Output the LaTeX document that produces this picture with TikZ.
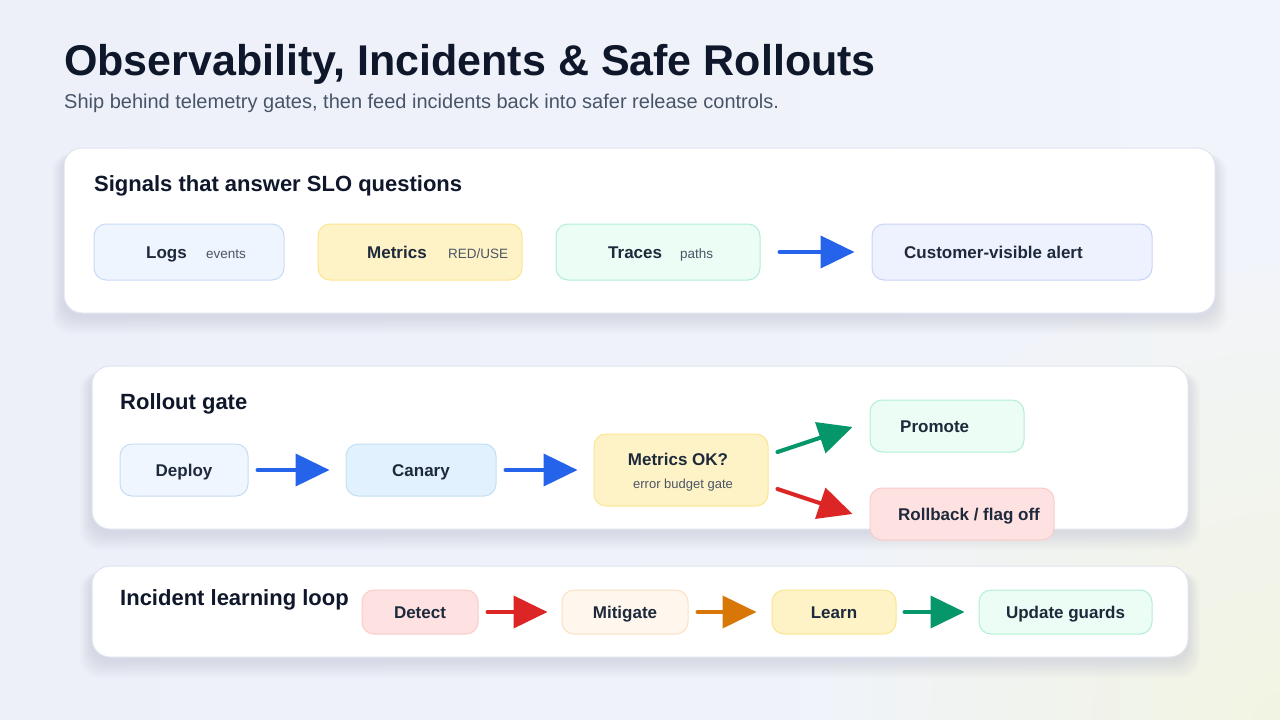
\documentclass[tikz,border=0pt]{standalone}
\usepackage{fontspec}
\setmainfont{Liberation Sans}
\usetikzlibrary{arrows.meta,calc}
\definecolor{bgA}{HTML}{EDF0F9}
\definecolor{bgM}{HTML}{F2F4FB}
\definecolor{bgY}{HTML}{FCF7DC}
\definecolor{panelline}{HTML}{E0E4EE}
\definecolor{shadowc}{HTML}{8E9AB8}
\definecolor{ink}{HTML}{0F172A}
\definecolor{boxink}{HTML}{1E293B}
\definecolor{subink}{HTML}{475569}
\definecolor{smallink}{HTML}{4B5563}
\definecolor{cblue}{HTML}{2563EB}
\definecolor{cgreen}{HTML}{059669}
\definecolor{cred}{HTML}{DC2626}
\definecolor{corange}{HTML}{D97706}
\definecolor{logsF}{HTML}{EEF5FF}\definecolor{logsD}{HTML}{C9DCF5}
\definecolor{yelF}{HTML}{FEF3C7}\definecolor{yelD}{HTML}{FCE592}
\definecolor{grnF}{HTML}{ECFDF5}\definecolor{grnD}{HTML}{B3EFD5}
\definecolor{indF}{HTML}{EEF2FF}\definecolor{indD}{HTML}{CAD3F7}
\definecolor{depF}{HTML}{EFF6FF}\definecolor{depD}{HTML}{C8DBF2}
\definecolor{canF}{HTML}{E1F1FD}\definecolor{canD}{HTML}{C3E0F5}
\definecolor{redF}{HTML}{FEE2E2}\definecolor{redD}{HTML}{FBCACA}
\definecolor{orF}{HTML}{FFF7ED}\definecolor{orD}{HTML}{FBE0C2}
\newcommand{\myshadow}[4]{%
  \foreach \i in {1,...,12}{%
    \fill[shadowc,opacity=0.018,rounded corners=18pt]
      ({#1-\i*1.0},{#2+6}) rectangle ({#3+\i*1.0},{#4+3+\i*1.5});
  }}
\begin{document}
\begin{tikzpicture}[x=1pt,y=-1pt,
  panel/.style={draw=panelline,line width=1pt,fill=white,rounded corners=18pt,inner sep=0pt},
  box/.style={draw=#1D,fill=#1F,line width=1pt,rounded corners=12pt,inner sep=0pt,
     text=boxink,font=\fontsize{17}{20}\selectfont\bfseries,text height=12.2pt,text depth=0pt},
  btxt/.style={anchor=base west,inner sep=0pt,text=boxink,font=\fontsize{17}{20}\selectfont\bfseries},
  stxt/.style={anchor=base west,inner sep=0pt,text=smallink,font=\fontsize{13.5}{16}\selectfont},
  ptitle/.style={anchor=base west,inner sep=0pt,text=ink,font=\fontsize{22}{26}\selectfont\bfseries},
  flow/.style={draw=#1,line width=4pt,line cap=round,-{Triangle[length=34pt,width=32pt]}}
]
\useasboundingbox (0,0) rectangle (1280,720);
\begin{scope}
\clip (0,0) rectangle (1280,720);
\shade[left color=bgA,right color=bgM] (0,0) rectangle (1280,720);
\foreach \r in {20,40,...,460}{
  \fill[bgY,opacity=0.035] (1290,730) circle (\r);
}
\end{scope}

% title
\node[anchor=base west,inner sep=0pt,text=ink,font=\fontsize{43}{48}\selectfont\bfseries] (title) at (64,75) {Observability, Incidents \& Safe Rollouts};
\node[anchor=base west,inner sep=0pt,text=subink,font=\fontsize{20}{23}\selectfont] (subtitle) at (64,108) {Ship behind telemetry gates, then feed incidents back into safer release controls.};

% shadows
\myshadow{64}{148}{1215}{313}
\myshadow{92}{366}{1188}{529}
\myshadow{92}{566}{1188}{657}

% panels
\node[panel,minimum width=1151pt,minimum height=165pt] (p1) at (639.5,230.5) {};
\node[panel,minimum width=1096pt,minimum height=163pt] (p2) at (640,447.5) {};
\node[panel,minimum width=1096pt,minimum height=91pt] (p3) at (640,611.5) {};

\node[ptitle] (t1) at (94,191) {Signals that answer SLO questions};
\node[ptitle] (t2) at (120,409) {Rollout gate};
\node[ptitle] (t3) at (120,605) {Incident learning loop};

% panel 1
\node[box=logs,minimum width=190pt,minimum height=56pt] (logs) at (189,252) {};
\node[btxt] (logsT) at (146,258) {Logs};
\node[stxt] (logsS) at (206,258) {events};
\node[box=yel,minimum width=204pt,minimum height=56pt] (metrics) at (420,252) {};
\node[btxt] (metricsT) at (367,258) {Metrics};
\node[stxt] (metricsS) at (448,258) {RED/USE};
\node[box=grn,minimum width=204pt,minimum height=56pt] (traces) at (658,252) {};
\node[btxt] (tracesT) at (608,258) {Traces};
\node[stxt] (tracesS) at (680,258) {paths};
\node[box=ind,minimum width=280pt,minimum height=56pt] (alert) at (1012,252) {};
\node[btxt] (alertT) at (904,258) {Customer-visible alert};
\draw[flow=cblue,shorten <=19pt,shorten >=17pt] (traces.east) -- (alert.west);

% panel 2
\node[box=dep,minimum width=128pt,minimum height=52pt] (deploy) at (184,470) {Deploy};
\node[box=can,minimum width=150pt,minimum height=52pt] (canary) at (421,470) {Canary};
\node[box=yel,minimum width=174pt,minimum height=72pt] (metok) at (681,470) {};
\node[anchor=base,inner sep=0pt,text=boxink,font=\fontsize{17}{20}\selectfont\bfseries] (metokT) at (678,465) {Metrics OK?};
\node[anchor=base,inner sep=0pt,text=smallink,font=\fontsize{13}{16}\selectfont] (metokS) at (683,488) {error budget gate};
\node[box=grn,minimum width=154pt,minimum height=52pt] (promote) at (947,426) {};
\node[btxt] (promoteT) at (900,432) {Promote};
\node[box=red,minimum width=184pt,minimum height=52pt] (rollback) at (962,514) {};
\node[btxt] (rollbackT) at (898,520) {Rollback / flag off};
\draw[flow=cblue,shorten <=9pt,shorten >=16pt] (deploy.east) -- (canary.west);
\draw[flow=cblue,shorten <=9pt,shorten >=16pt] (canary.east) -- (metok.west);
\draw[flow=cgreen] ($(metok.east)+(9,-18)$) -- ($(promote.west)+(-17,1)$);
\draw[flow=cred] ($(metok.east)+(9,19)$) -- ($(rollback.west)+(-17,0)$);

% panel 3
\node[box=red,minimum width=116pt,minimum height=44pt] (detect) at (420,612) {Detect};
\node[box=or,minimum width=126pt,minimum height=44pt] (mitigate) at (625,612) {Mitigate};
\node[box=yel,minimum width=124pt,minimum height=44pt] (learn) at (834,612) {Learn};
\node[box=grn,minimum width=173pt,minimum height=44pt] (update) at (1065.5,612) {Update guards};
\draw[flow=cred,shorten <=9pt,shorten >=14pt] (detect.east) -- (mitigate.west);
\draw[flow=corange,shorten <=9pt,shorten >=15pt] (mitigate.east) -- (learn.west);
\draw[flow=cgreen,shorten <=8pt,shorten >=14pt] (learn.east) -- (update.west);
\end{tikzpicture}
\end{document}
